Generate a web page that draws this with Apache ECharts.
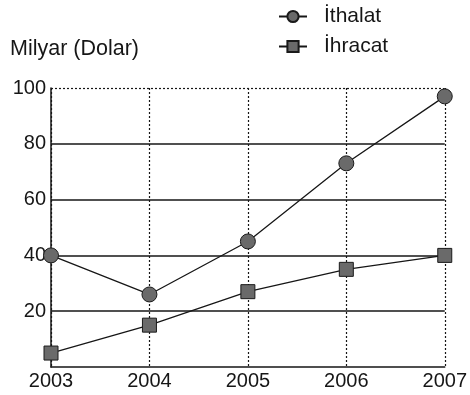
<!DOCTYPE html>
<html>
<head>
<meta charset="utf-8">
<script src="https://cdn.jsdelivr.net/npm/echarts@6/dist/echarts.min.js"></script>
<style>
  html, body { margin: 0; padding: 0; background: #fff; }
  #chart { width: 470px; height: 395px; }
</style>
</head>
<body>
<div id="chart"></div>
<script>
// Yıllar ve milyar dolar cinsinden dış ticaret değerleri
const years = ['2003', '2004', '2005', '2006', '2007'];
const ithalat = [40, 26, 45, 73, 97];
const ihracat = [5, 15, 27, 35, 40];
const solidGrid = [20, 40, 60, 80];
const topGrid = 100;

const FONT = '"Liberation Sans", Arial, sans-serif';
const INK = '#161616';

const markerStyle = { color: '#6a6a6a', borderColor: '#1a1a1a', borderWidth: 1 };

const chart = echarts.init(document.getElementById('chart'));
chart.setOption({
  backgroundColor: '#fff',
  animation: false,
  textStyle: { fontFamily: FONT, color: INK },
  title: {
    text: 'Milyar (Dolar)',
    left: 5,
    top: 33,
    textStyle: { fontFamily: FONT, fontSize: 21.5, fontWeight: 'normal', color: INK }
  },
  legend: {
    orient: 'vertical',
    left: 273,
    top: 1,
    itemWidth: 28,
    itemHeight: 14,
    itemGap: 9,
    textStyle: { fontFamily: FONT, fontSize: 21, color: INK, padding: [0, 0, 0, 12] },
    data: ['İthalat', 'İhracat']
  },
  grid: { left: 51, right: 18, top: 88, bottom: 28 },
  xAxis: {
    type: 'category',
    data: years,
    boundaryGap: false,
    axisLine: { show: true, lineStyle: { color: INK, width: 1.5 } },
    axisTick: { show: false },
    axisLabel: { color: INK, fontSize: 20, fontFamily: FONT, margin: 4, interval: 0 },
    splitLine: { show: true, interval: 0, lineStyle: { color: INK, width: 1.2, type: [2, 2] } }
  },
  yAxis: {
    type: 'value',
    min: 0,
    max: 100,
    interval: 20,
    axisLine: { show: true, lineStyle: { color: INK, width: 1.5 } },
    axisTick: { show: false },
    axisLabel: {
      color: INK, fontSize: 20, fontFamily: FONT, margin: 5,
      formatter: v => (v === 0 ? '' : String(v))
    },
    splitLine: { show: false }
  },
  series: [
    {
      name: 'İthalat',
      type: 'line',
      data: ithalat,
      symbol: 'circle',
      symbolSize: 15,
      z: 5,
      lineStyle: { color: INK, width: 1.3 },
      itemStyle: markerStyle,
      markLine: {
        silent: true,
        symbol: 'none',
        label: { show: false },
        z: 1,
        data: solidGrid.map(v => ({ yAxis: v, lineStyle: { color: INK, width: 1.6, type: 'solid' } }))
          .concat([{ yAxis: topGrid, lineStyle: { color: INK, width: 1.2, type: [2, 2] } }])
      }
    },
    {
      name: 'İhracat',
      type: 'line',
      data: ihracat,
      symbol: 'rect',
      symbolSize: 14,
      z: 5,
      lineStyle: { color: INK, width: 1.3 },
      itemStyle: markerStyle
    }
  ]
});
</script>
</body>
</html>
